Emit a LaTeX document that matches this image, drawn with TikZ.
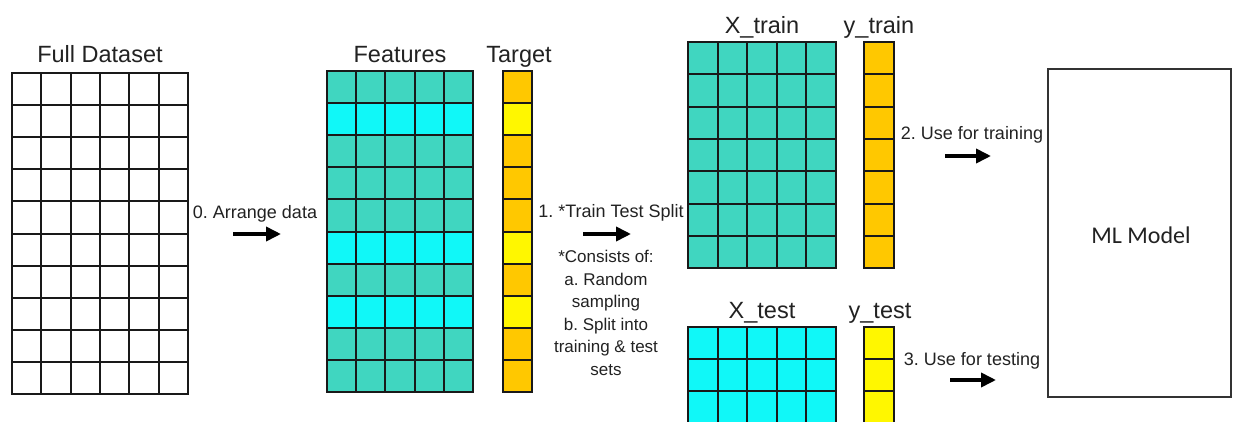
\documentclass[tikz,border=0pt]{standalone}
\usepackage{fontspec}
\setmainfont{Liberation Sans}
\newfontfamily\modelfont{Carlito}
\usetikzlibrary{arrows.meta}
\frenchspacing

\definecolor{featteal}{HTML}{40D6C0}
\definecolor{featcyan}{HTML}{10F8F8}
\definecolor{targorange}{HTML}{FFC800}
\definecolor{targyellow}{HTML}{FFF700}
\definecolor{inkgrey}{HTML}{222222}

\begin{document}
\begin{tikzpicture}[x=1pt, y=-1pt]

    % Stijlen voor de tabellen, pijlen en teksten
    \tikzset{
        cell/.style={draw=black!90, line width=2pt},
        title/.style={font=\fontsize{23.5}{28}\selectfont, text=inkgrey, anchor=base, inner sep=0pt},
        steplabel/.style={font=\fontsize{18}{22}\selectfont, text=inkgrey, anchor=base, inner sep=0pt},
        notelabel/.style={font=\fontsize{17}{22.5}\selectfont, text=inkgrey, align=center, inner sep=0pt},
        bigarrow/.style={line width=3.6pt, -{Triangle[length=15pt, width=14pt]}}
    }

    \useasboundingbox (0,0) rectangle (1233,422);
    \fill[white] (0,0) rectangle (1233,422);

    % --- FULL DATASET (6 x 10, leeg) ---
    \foreach \r in {0,...,9} {
        \foreach \k in {0,...,5} {
            \draw[cell] (12+\k*29.33, 73+\r*32.1) rectangle ++(29.33, 32.1);
        }
    }

    % --- FEATURES EN TARGET (10 rijen) ---
    \foreach \r/\fc/\tc in {0/featteal/targorange, 1/featcyan/targyellow,
                            2/featteal/targorange, 3/featteal/targorange,
                            4/featteal/targorange, 5/featcyan/targyellow,
                            6/featteal/targorange, 7/featcyan/targyellow,
                            8/featteal/targorange, 9/featteal/targorange} {
        \foreach \k in {0,...,4} {
            \draw[cell, fill=\fc] (327+\k*29.2, 71+\r*32.1) rectangle ++(29.2, 32.1);
        }
        \draw[cell, fill=\tc] (503, 71+\r*32.1) rectangle ++(29, 32.1);
    }

    % --- X_TRAIN EN Y_TRAIN (7 rijen) ---
    \foreach \r in {0,...,6} {
        \foreach \k in {0,...,4} {
            \draw[cell, fill=featteal] (688+\k*29.6, 42+\r*32.3) rectangle ++(29.6, 32.3);
        }
        \draw[cell, fill=targorange] (864, 42+\r*32.3) rectangle ++(30, 32.3);
    }

    % --- X_TEST EN Y_TEST (loopt onder de rand door) ---
    \foreach \r in {0,...,2} {
        \foreach \k in {0,...,4} {
            \draw[cell, fill=featcyan] (688+\k*29.6, 327+\r*32) rectangle ++(29.6, 32);
        }
        \draw[cell, fill=targyellow] (864, 327+\r*32) rectangle ++(30, 32);
    }

    % --- TITELS BOVEN DE TABELLEN ---
    \node[title] (fulltitle)   at (100, 63) {Full Dataset};
    \node[title] (feattitle)   at (400, 63) {Features};
    \node[title] (targettitle) at (519, 63) {Target};
    \node[title] (xtraintitle) at (762, 34) {X\_train};
    \node[title] (ytraintitle) at (879, 34) {y\_train};
    \node[title] (xtesttitle)  at (762, 318) {X\_test};
    \node[title] (ytesttitle)  at (880, 318) {y\_test};

    % --- STAPPEN MET PIJLEN ---
    \node[steplabel] (arrangelbl) at (255, 218) {0. Arrange data};
    \coordinate (arrange-s) at (233, 234);
    \coordinate (arrange-e) at (281, 234);
    \draw[bigarrow] (arrange-s) -- (arrange-e);

    \node[steplabel] (splitlbl) at (611, 217) {1. *Train Test Split};
    \coordinate (split-s) at (583, 234);
    \coordinate (split-e) at (631, 234);
    \draw[bigarrow] (split-s) -- (split-e);

    \node[notelabel] (splitnote) at (606, 313)
        {*Consists of:\\a. Random\\sampling\\b. Split into\\training \& test\\sets};

    \node[steplabel] (trainlbl) at (972, 140) {2. Use for training};
    \coordinate (train-s) at (945, 156);
    \coordinate (train-e) at (991, 156);
    \draw[bigarrow] (train-s) -- (train-e);

    \node[steplabel] (testlbl) at (972, 365) {3. Use for testing};
    \coordinate (test-s) at (950, 380);
    \coordinate (test-e) at (996, 380);
    \draw[bigarrow] (test-s) -- (test-e);

    % --- ML MODEL ---
    \draw[line width=1.4pt, draw=black!80] (1048, 69) rectangle (1231, 397);
    \node[font=\modelfont\fontsize{24}{29}\selectfont, text=inkgrey] (model) at (1141, 235) {ML Model};

\end{tikzpicture}
\end{document}
